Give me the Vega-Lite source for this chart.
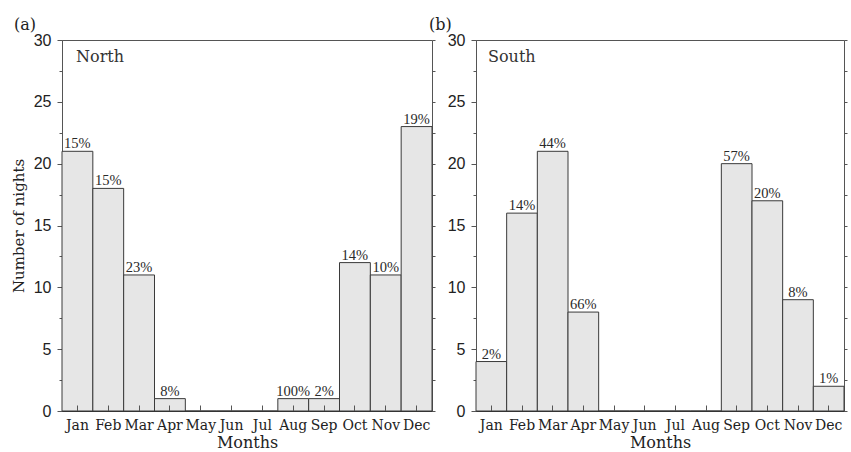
{
  "$schema": "https://vega.github.io/schema/vega-lite/v6.json",
  "padding": {"left": 10, "top": 16, "right": 6, "bottom": 0},
  "bounds": "flush",
  "spacing": 44,
  "config": {
    "view": {"stroke": "#555", "strokeWidth": 1},
    "axis": {"grid": false}
  },
  "datasets": {
    "north": [
      {"month": "Jan", "nights": 21, "pct": "15%"},
      {"month": "Feb", "nights": 18, "pct": "15%"},
      {"month": "Mar", "nights": 11, "pct": "23%"},
      {"month": "Apr", "nights": 1, "pct": "8%"},
      {"month": "May", "nights": 0, "pct": null},
      {"month": "Jun", "nights": 0, "pct": null},
      {"month": "Jul", "nights": 0, "pct": null},
      {"month": "Aug", "nights": 1, "pct": "100%"},
      {"month": "Sep", "nights": 1, "pct": "2%"},
      {"month": "Oct", "nights": 12, "pct": "14%"},
      {"month": "Nov", "nights": 11, "pct": "10%"},
      {"month": "Dec", "nights": 23, "pct": "19%"}
    ],
    "south": [
      {"month": "Jan", "nights": 4, "pct": "2%"},
      {"month": "Feb", "nights": 16, "pct": "14%"},
      {"month": "Mar", "nights": 21, "pct": "44%"},
      {"month": "Apr", "nights": 8, "pct": "66%"},
      {"month": "May", "nights": 0, "pct": null},
      {"month": "Jun", "nights": 0, "pct": null},
      {"month": "Jul", "nights": 0, "pct": null},
      {"month": "Aug", "nights": 0, "pct": null},
      {"month": "Sep", "nights": 20, "pct": "57%"},
      {"month": "Oct", "nights": 17, "pct": "20%"},
      {"month": "Nov", "nights": 9, "pct": "8%"},
      {"month": "Dec", "nights": 2, "pct": "1%"}
    ]
  },
  "hconcat": [
    {
      "width": 370,
      "height": 371,
      "data": {"name": "north"},
      "title": {"text": "(a)", "anchor": "start", "frame": "group", "dx": -48, "font": "DejaVu Serif", "fontSize": 16, "fontWeight": "normal", "color": "#222", "offset": -1},
      "layer": [
        {
          "mark": {"type": "bar", "fill": "#e6e6e6", "stroke": "#3a3a3a", "strokeWidth": 1},
          "encoding": {
            "x": {"field": "month", "type": "nominal", "scale": {"domain": ["Jan","Feb","Mar","Apr","May","Jun","Jul","Aug","Sep","Oct","Nov","Dec"], "paddingInner": 0, "paddingOuter": 0},
              "axis": {"title": "Months", "titleFont": "DejaVu Serif", "titleFontSize": 16, "titleFontWeight": "normal", "titleColor": "#222", "titlePadding": 2, "labelFont": "DejaVu Serif", "labelFontSize": 14, "labelColor": "#222", "labelAngle": 0, "tickSize": -6, "labelPadding": 13, "zindex": 1, "domainColor": "#333", "tickColor": "#555", "labelOverlap": false}},
            "y": {"field": "nights", "type": "quantitative", "scale": {"domain": [0, 30], "nice": false},
              "axis": {"orient": "left", "values": [0,2.5,5,7.5,10,12.5,15,17.5,20,22.5,25,27.5,30], "labelExpr": "datum.value % 5 === 0 ? datum.label : ''", "tickSize": {"condition": {"test": "datum.value % 5 === 0", "value": 5}, "value": 3}, "labelFont": "Liberation Sans", "labelFontSize": 16, "labelColor": "#222", "labelPadding": 6, "labelOverlap": false, "title": "Number of nights", "titleFont": "DejaVu Serif", "titleFontSize": 15, "titleFontWeight": "normal", "titleColor": "#222", "titlePadding": 7, "domainColor": "#555", "tickColor": "#555"}}
          }
        },
        {
          "transform": [{"filter": "datum.pct != null"}],
          "mark": {"type": "text", "font": "Liberation Serif", "fontSize": 14.5, "baseline": "alphabetic", "dy": -3, "color": "#2a2a2a"},
          "encoding": {
            "x": {"field": "month", "type": "nominal"},
            "y": {"field": "nights", "type": "quantitative", "scale": {"domain": [0, 30], "nice": false},
              "axis": {"orient": "right", "values": [0,2.5,5,7.5,10,12.5,15,17.5,20,22.5,25,27.5,30], "labels": false, "title": null, "domain": false, "tickSize": 3, "tickColor": "#555"}},
            "text": {"field": "pct"}
          }
        },
        {
          "data": {"values": [{"region": "North"}]},
          "mark": {"type": "text", "font": "DejaVu Serif", "fontSize": 16, "align": "left", "baseline": "middle", "dx": 14, "color": "#333"},
          "encoding": {
            "x": {"datum": "Jan", "type": "nominal", "bandPosition": 0},
            "y": {"datum": 28.6, "type": "quantitative", "scale": {"domain": [0, 30], "nice": false}, "axis": null},
            "text": {"field": "region"}
          }
        }
      ],
      "resolve": {"scale": {"y": "independent"}, "axis": {"y": "independent"}}
    },
    {
      "width": 368,
      "height": 371,
      "data": {"name": "south"},
      "title": {"text": "(b)", "anchor": "start", "frame": "group", "dx": -47, "font": "DejaVu Serif", "fontSize": 16, "fontWeight": "normal", "color": "#222", "offset": -1},
      "layer": [
        {
          "mark": {"type": "bar", "fill": "#e6e6e6", "stroke": "#3a3a3a", "strokeWidth": 1},
          "encoding": {
            "x": {"field": "month", "type": "nominal", "scale": {"domain": ["Jan","Feb","Mar","Apr","May","Jun","Jul","Aug","Sep","Oct","Nov","Dec"], "paddingInner": 0, "paddingOuter": 0},
              "axis": {"title": "Months", "titleFont": "DejaVu Serif", "titleFontSize": 16, "titleFontWeight": "normal", "titleColor": "#222", "titlePadding": 2, "labelFont": "DejaVu Serif", "labelFontSize": 14, "labelColor": "#222", "labelAngle": 0, "tickSize": -6, "labelPadding": 13, "zindex": 1, "domainColor": "#333", "tickColor": "#555", "labelOverlap": false}},
            "y": {"field": "nights", "type": "quantitative", "scale": {"domain": [0, 30], "nice": false},
              "axis": {"orient": "left", "values": [0,2.5,5,7.5,10,12.5,15,17.5,20,22.5,25,27.5,30], "labelExpr": "datum.value % 5 === 0 ? datum.label : ''", "tickSize": {"condition": {"test": "datum.value % 5 === 0", "value": 5}, "value": 3}, "labelFont": "Liberation Sans", "labelFontSize": 16, "labelColor": "#222", "labelPadding": 6, "labelOverlap": false, "title": null, "domainColor": "#555", "tickColor": "#555"}}
          }
        },
        {
          "transform": [{"filter": "datum.pct != null"}],
          "mark": {"type": "text", "font": "Liberation Serif", "fontSize": 14.5, "baseline": "alphabetic", "dy": -3, "color": "#2a2a2a"},
          "encoding": {
            "x": {"field": "month", "type": "nominal"},
            "y": {"field": "nights", "type": "quantitative", "scale": {"domain": [0, 30], "nice": false},
              "axis": {"orient": "right", "values": [0,2.5,5,7.5,10,12.5,15,17.5,20,22.5,25,27.5,30], "labels": false, "title": null, "domain": false, "tickSize": 3, "tickColor": "#555"}},
            "text": {"field": "pct"}
          }
        },
        {
          "data": {"values": [{"region": "South"}]},
          "mark": {"type": "text", "font": "DejaVu Serif", "fontSize": 16, "align": "left", "baseline": "middle", "dx": 12, "color": "#333"},
          "encoding": {
            "x": {"datum": "Jan", "type": "nominal", "bandPosition": 0},
            "y": {"datum": 28.6, "type": "quantitative", "scale": {"domain": [0, 30], "nice": false}, "axis": null},
            "text": {"field": "region"}
          }
        }
      ],
      "resolve": {"scale": {"y": "independent"}, "axis": {"y": "independent"}}
    }
  ]
}
